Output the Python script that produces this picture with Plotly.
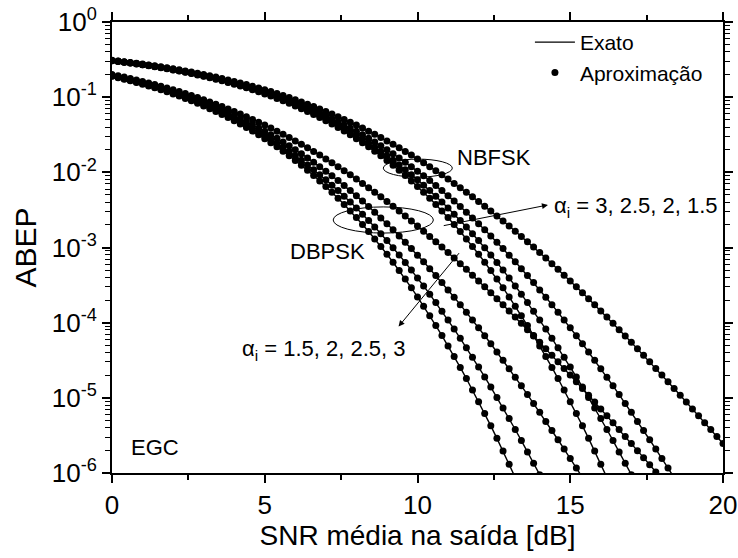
import plotly.graph_objects as go

# average output SNR grid [dB]
snr_db = [0.0, 0.2, 0.4, 0.6, 0.8, 1.0, 1.2, 1.4, 1.6, 1.8, 2.0, 2.2, 2.4, 2.6, 2.8, 3.0, 3.2, 3.4,
          3.6, 3.8, 4.0, 4.2, 4.4, 4.6, 4.8, 5.0, 5.2, 5.4, 5.6, 5.8, 6.0, 6.2, 6.4, 6.6, 6.8, 7.0,
          7.2, 7.4, 7.6, 7.8, 8.0, 8.2, 8.4, 8.6, 8.8, 9.0, 9.2, 9.4, 9.6, 9.8, 10.0, 10.2, 10.4,
          10.6, 10.8, 11.0, 11.2, 11.4, 11.6, 11.8, 12.0, 12.2, 12.4, 12.6, 12.8, 13.0, 13.2, 13.4,
          13.6, 13.8, 14.0, 14.2, 14.4, 14.6, 14.8, 15.0, 15.2, 15.4, 15.6, 15.8, 16.0, 16.2, 16.4,
          16.6, 16.8, 17.0, 17.2, 17.4, 17.6, 17.8, 18.0, 18.2, 18.4, 18.6, 18.8, 19.0, 19.2, 19.4,
          19.6, 19.8, 20.0]

# ABEP with EGC, DBPSK, alpha_i = 3, 2.5, 2, 1.5
dbpsk_a3 = [.1897, .1815, .1733, .1651, .1570, .1490, .1410, .1332, .1255, .1179,
            .1105, .1033, .09625, .08943, .08283, .07648, .07038, .06454, .05897, .05369,
            .04870, .04399, .03957, .03545, .03162, .02808, .02482, .02184, .01912, .01665,
            .01442, .01243, .01065, .009078, .007692, .006479, .005424, .004512, .00373, .003063,
            .002499, .002025, .00163, .001302, .001033, 8.14e-4, 6.36e-4, 4.94e-4, 3.80e-4, 2.91e-4,
            2.20e-4, 1.658e-4, 1.237e-4, 9.16e-5, 6.73e-5, 4.90e-5, 3.54e-5, 2.54e-5, 1.805e-5, 1.272e-5,
            8.89e-6, 6.17e-6, 4.24e-6, 2.89e-6, 1.96e-6, 1.31e-6, 8.7e-7]
dbpsk_a25 = [.1919, .1838, .1757, .1676, .1596, .1517, .1438, .1360, .1284, .1209,
             .1136, .1064, .0994, .09262, .08605, .07971, .07363, .06778, .06220, .05689,
             .05185, .04709, .04261, .03841, .03449, .03085, .02749, .02438, .02154, .01894,
             .01658, .01445, .01253, .01082, .009295, .007945, .006757, .005716, .004811, .004028,
             .003354, .002777, .002287, .001873, .001525, .001235, 9.94e-4, 7.95e-4, 6.33e-4, 5.01e-4,
             3.94e-4, 3.078e-4, 2.392e-4, 1.848e-4, 1.419e-4, 1.083e-4, 8.22e-5, 6.20e-5, 4.65e-5, 3.47e-5,
             2.57e-5, 1.895e-5, 1.389e-5, 1.012e-5, 7.33e-6, 5.29e-6, 3.79e-6, 2.70e-6, 1.91e-6, 1.35e-6,
             9.5e-7]
dbpsk_a2 = [.1951, .1871, .1792, .1712, .1634, .1556, .1478, .1402, .1327, .1253,
            .1180, .1110, .1040, .09732, .09080, .08450, .07842, .07259, .06699, .06165,
            .05656, .05173, .04717, .04287, .03884, .03507, .03156, .02830, .02529, .02252,
            .01996, .01765, .01554, .01363, .01191, .01037, .008988, .00776, .006673, .005715,
            .004875, .004141, .003503, .002951, .002476, .002069, .001721, .001426, .001177, 9.67e-4,
            7.91e-4, 6.45e-4, 5.23e-4, 4.23e-4, 3.41e-4, 2.73e-4, 2.18e-4, 1.737e-4, 1.377e-4, 1.087e-4,
            8.55e-5, 6.70e-5, 5.24e-5, 4.07e-5, 3.16e-5, 2.44e-5, 1.88e-5, 1.443e-5, 1.104e-5, 8.43e-6,
            6.41e-6, 4.86e-6, 3.67e-6, 2.77e-6, 2.08e-6, 1.56e-6, 1.165e-6, 8.7e-7]
dbpsk_a15 = [.2005, .1928, .1850, .1774, .1697, .1621, .1546, .1472, .1399, .1326,
             .1256, .1186, .1119, .1053, .09882, .09260, .08656, .08075, .07515, .06978,
             .06463, .05973, .05506, .05063, .04643, .04248, .03877, .03528, .03203, .02900,
             .02619, .02358, .02118, .01897, .01695, .01510, .01341, .01188, .01050, .009252,
             .00813, .007125, .006227, .005428, .00472, .004092, .003539, .003053, .002627, .002255,
             .00193, .001649, .001405, .001194, .001012, 8.57e-4, 7.23e-4, 6.09e-4, 5.12e-4, 4.29e-4,
             3.59e-4, 3.00e-4, 2.50e-4, 2.08e-4, 1.729e-4, 1.433e-4, 1.186e-4, 9.79e-5, 8.08e-5, 6.65e-5,
             5.47e-5, 4.49e-5, 3.68e-5, 3.01e-5, 2.46e-5, 2.01e-5, 1.635e-5, 1.331e-5, 1.082e-5, 8.78e-6,
             7.12e-6, 5.77e-6, 4.67e-6, 3.78e-6, 3.05e-6, 2.46e-6, 1.98e-6, 1.60e-6, 1.285e-6, 1.034e-6,
             8.3e-7]

# ABEP with EGC, NBFSK, alpha_i = 3, 2.5, 2, 1.5
nbfsk_a3 = [.3053, .2984, .2913, .2842, .2768, .2694, .2618, .2541, .2463, .2384,
            .2304, .2224, .2142, .2061, .1979, .1897, .1815, .1733, .1651, .1570,
            .1490, .1410, .1332, .1255, .1179, .1105, .1033, .09625, .08943, .08283,
            .07648, .07038, .06454, .05897, .05369, .04870, .04399, .03957, .03545, .03162,
            .02808, .02482, .02184, .01912, .01665, .01442, .01243, .01065, .009078, .007692,
            .006479, .005424, .004512, .00373, .003063, .002499, .002025, .00163, .001302, .001033,
            8.14e-4, 6.36e-4, 4.94e-4, 3.80e-4, 2.91e-4, 2.20e-4, 1.658e-4, 1.237e-4, 9.16e-5, 6.73e-5,
            4.90e-5, 3.54e-5, 2.54e-5, 1.805e-5, 1.272e-5, 8.89e-6, 6.17e-6, 4.24e-6, 2.89e-6, 1.96e-6,
            1.31e-6, 8.7e-7]
nbfsk_a25 = [.3062, .2994, .2924, .2853, .2780, .2706, .2631, .2555, .2478, .2400,
             .2321, .2241, .2161, .2081, .2000, .1919, .1838, .1757, .1676, .1596,
             .1517, .1438, .1360, .1284, .1209, .1136, .1064, .0994, .09262, .08605,
             .07971, .07363, .06778, .06220, .05689, .05185, .04709, .04261, .03841, .03449,
             .03085, .02749, .02438, .02154, .01894, .01658, .01445, .01253, .01082, .009295,
             .007945, .006757, .005716, .004811, .004028, .003354, .002777, .002287, .001873, .001525,
             .001235, 9.94e-4, 7.95e-4, 6.33e-4, 5.01e-4, 3.94e-4, 3.078e-4, 2.392e-4, 1.848e-4, 1.419e-4,
             1.083e-4, 8.22e-5, 6.20e-5, 4.65e-5, 3.47e-5, 2.57e-5, 1.895e-5, 1.389e-5, 1.012e-5, 7.33e-6,
             5.29e-6, 3.79e-6, 2.70e-6, 1.91e-6, 1.35e-6, 9.5e-7]
nbfsk_a2 = [.3076, .3009, .2940, .2869, .2798, .2725, .2651, .2577, .2501, .2424,
            .2346, .2268, .2189, .2110, .2030, .1951, .1871, .1792, .1712, .1634,
            .1556, .1478, .1402, .1327, .1253, .1180, .1110, .1040, .09732, .09080,
            .08450, .07842, .07259, .06699, .06165, .05656, .05173, .04717, .04287, .03884,
            .03507, .03156, .02830, .02529, .02252, .01996, .01765, .01554, .01363, .01191,
            .01037, .008988, .00776, .006673, .005715, .004875, .004141, .003503, .002951, .002476,
            .002069, .001721, .001426, .001177, 9.67e-4, 7.91e-4, 6.45e-4, 5.23e-4, 4.23e-4, 3.41e-4,
            2.73e-4, 2.18e-4, 1.737e-4, 1.377e-4, 1.087e-4, 8.55e-5, 6.70e-5, 5.24e-5, 4.07e-5, 3.16e-5,
            2.44e-5, 1.88e-5, 1.443e-5, 1.104e-5, 8.43e-6, 6.41e-6, 4.86e-6, 3.67e-6, 2.77e-6, 2.08e-6,
            1.56e-6, 1.165e-6, 8.7e-7]
nbfsk_a15 = [.3099, .3033, .2966, .2898, .2828, .2757, .2685, .2613, .2539, .2464,
             .2389, .2313, .2236, .2159, .2082, .2005, .1928, .1850, .1774, .1697,
             .1621, .1546, .1472, .1399, .1326, .1256, .1186, .1119, .1053, .09882,
             .09260, .08656, .08075, .07515, .06978, .06463, .05973, .05506, .05063, .04643,
             .04248, .03877, .03528, .03203, .02900, .02619, .02358, .02118, .01897, .01695,
             .01510, .01341, .01188, .01050, .009252, .00813, .007125, .006227, .005428, .00472,
             .004092, .003539, .003053, .002627, .002255, .00193, .001649, .001405, .001194, .001012,
             8.57e-4, 7.23e-4, 6.09e-4, 5.12e-4, 4.29e-4, 3.59e-4, 3.00e-4, 2.50e-4, 2.08e-4, 1.729e-4,
             1.433e-4, 1.186e-4, 9.79e-5, 8.08e-5, 6.65e-5, 5.47e-5, 4.49e-5, 3.68e-5, 3.01e-5, 2.46e-5,
             2.01e-5, 1.635e-5, 1.331e-5, 1.082e-5, 8.78e-6, 7.12e-6, 5.77e-6, 4.67e-6, 3.78e-6, 3.05e-6,
             2.46e-6]

curves = [nbfsk_a3, nbfsk_a25, nbfsk_a2, nbfsk_a15, dbpsk_a3, dbpsk_a25, dbpsk_a2, dbpsk_a15]

y_tick_vals = [1e-6, 1e-5, 1e-4, 1e-3, 1e-2, 1e-1, 1]
y_tick_text = ["10<sup>-6</sup>", "10<sup>-5</sup>", "10<sup>-4</sup>", "10<sup>-3</sup>",
               "10<sup>-2</sup>", "10<sup>-1</sup>", "10<sup>0</sup>"]
y_minor_vals = [k * 10.0 ** e for e in range(-6, 0) for k in range(2, 10)]

FONT = "Arial, Liberation Sans, sans-serif"

fig = go.Figure()
for i, vals in enumerate(curves):
    xs = snr_db[:len(vals)]
    fig.add_trace(go.Scatter(x=xs, y=vals, mode="lines", line=dict(color="black", width=1.4),
                             name="Exato", legendgroup="exato", showlegend=(i == 0)))
for i, vals in enumerate(curves):
    xs = snr_db[:len(vals)]
    fig.add_trace(go.Scatter(x=xs, y=vals, mode="markers", marker=dict(color="black", size=7),
                             name="Aproximação", legendgroup="aprox", showlegend=(i == 0)))

axis_common = dict(showline=True, linecolor="black", linewidth=2, mirror="allticks",
                   ticks="outside", ticklen=8, tickwidth=1.5, tickcolor="black",
                   showgrid=False, zeroline=False, automargin=False,
                   tickfont=dict(family=FONT, size=26, color="black"))

fig.update_xaxes(range=[0, 20], tickvals=[0, 5, 10, 15, 20],
                 minor=dict(tickvals=[2.5, 7.5, 12.5, 17.5], ticks="outside", ticklen=5,
                            tickwidth=1.5, tickcolor="black"),
                 title=dict(text="SNR média na saída [dB]", font=dict(family=FONT, size=28, color="black"),
                            standoff=6),
                 **axis_common)
fig.update_yaxes(type="log", range=[-6, 0], tickvals=y_tick_vals, ticktext=y_tick_text,
                 minor=dict(tickvals=y_minor_vals, ticks="outside", ticklen=5,
                            tickwidth=1, tickcolor="black"),
                 title=dict(text="ABEP", font=dict(family=FONT, size=30, color="black"), standoff=6),
                 **axis_common)

ann_font = dict(family=FONT, size=22, color="black")
fig.add_annotation(x=12.51, y=-1.809, text="NBFSK", showarrow=False, font=ann_font)
fig.add_annotation(x=7.05, y=-3.059, text="DBPSK", showarrow=False, font=ann_font)
fig.add_annotation(x=14.40, y=-2.46, text="α<sub>i</sub> = 3, 2.5, 2, 1.5", showarrow=False,
                   xanchor="left", font=ann_font)
fig.add_annotation(x=4.20, y=-4.36, text="α<sub>i</sub> = 1.5, 2, 2.5, 3", showarrow=False,
                   xanchor="left", font=ann_font)
fig.add_annotation(x=0.57, y=-5.665, text="EGC", showarrow=False, xanchor="left", font=ann_font)

# arrows indicating the alpha_i ordering
fig.add_annotation(x=14.27, y=-2.434, ax=10.81, ay=-2.713, axref="x", ayref="y", xref="x", yref="y",
                   text="", showarrow=True, arrowhead=2, arrowsize=1.2, arrowwidth=1, arrowcolor="black")
fig.add_annotation(x=9.38, y=-4.052, ax=11.40, ay=-3.055, axref="x", ayref="y", xref="x", yref="y",
                   text="", showarrow=True, arrowhead=2, arrowsize=1.2, arrowwidth=1, arrowcolor="black")

# ellipses grouping each modulation (plot-area fractions)
fig.add_shape(type="circle", xref="paper", yref="paper", x0=0.444, x1=0.557, y0=0.656, y1=0.696,
              line=dict(color="black", width=1))
fig.add_shape(type="circle", xref="paper", yref="paper", x0=0.362, x1=0.526, y0=0.532, y1=0.590,
              line=dict(color="black", width=1))

fig.update_layout(
    width=738, height=558,
    margin=dict(l=111.5, r=15, t=22, b=85),
    paper_bgcolor="white", plot_bgcolor="white",
    font=dict(family=FONT, color="black"),
    legend=dict(x=0.684, y=1.0, xanchor="left", yanchor="top", bgcolor="rgba(0,0,0,0)",
                font=dict(family=FONT, size=21, color="black"), itemwidth=40, tracegroupgap=0),
)

fig.write_html("out.html")
